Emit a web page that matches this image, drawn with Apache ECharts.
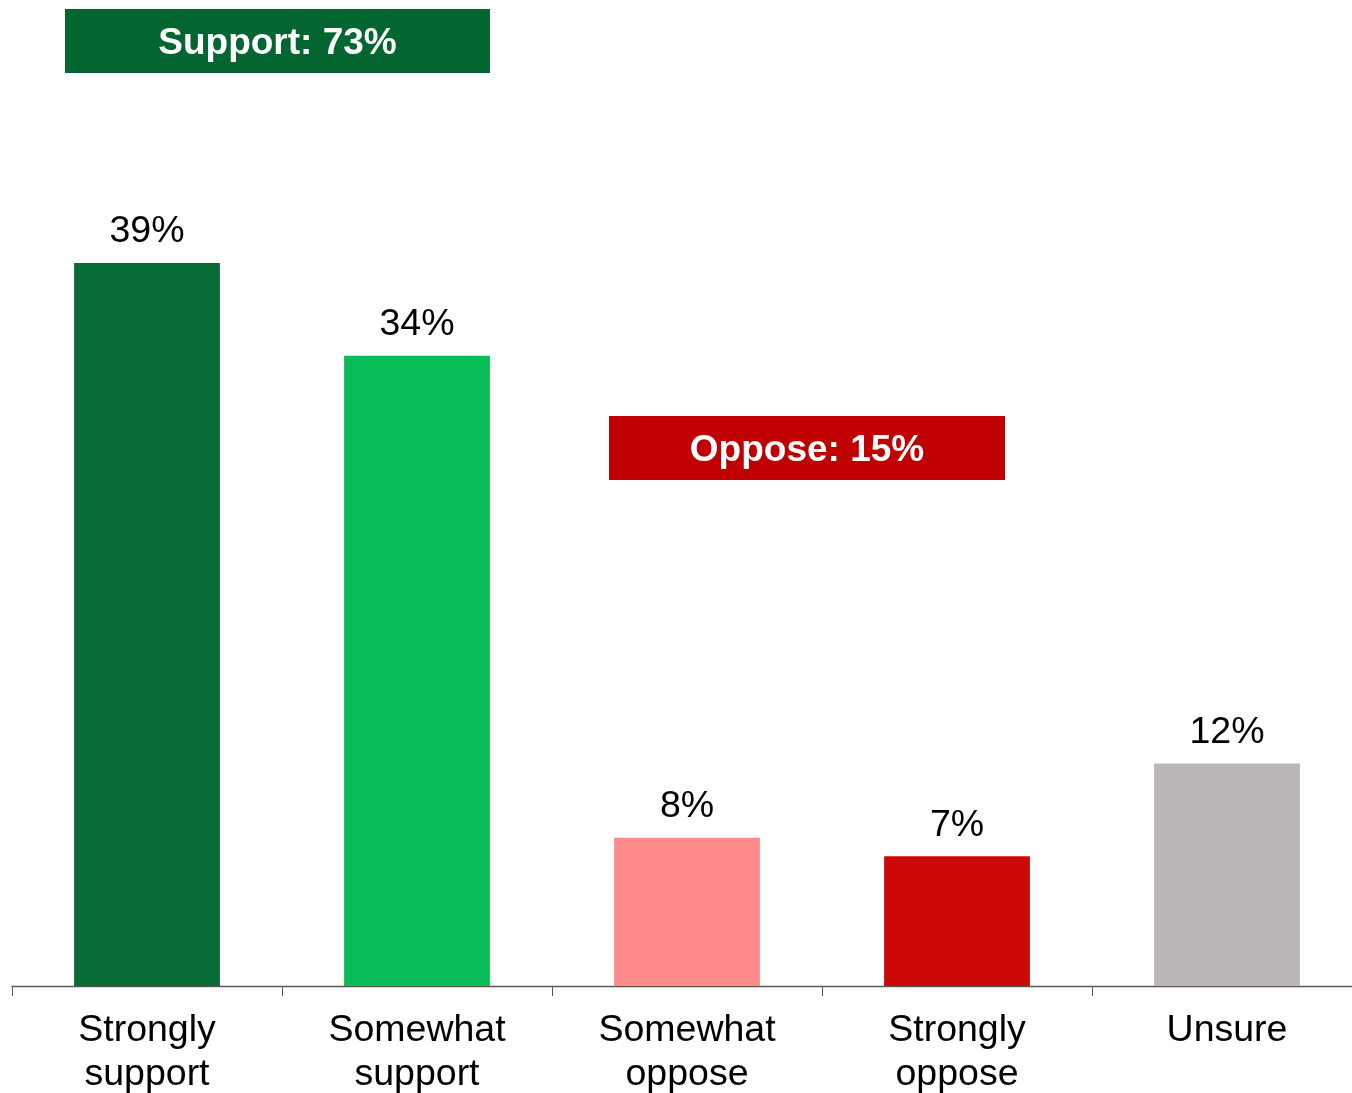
<!DOCTYPE html>
<html>
<head>
<meta charset="utf-8">
<script src="https://cdn.jsdelivr.net/npm/echarts@6/dist/echarts.min.js"></script>
<style>
  html, body { margin: 0; padding: 0; background: #fff; }
  #main { width: 1352px; height: 1093px; }
</style>
</head>
<body>
<div id="main"></div>
<script>
var categories = ['Strongly\nsupport', 'Somewhat\nsupport', 'Somewhat\noppose', 'Strongly\noppose', 'Unsure'];
var values = [39, 34, 8, 7, 12];
var barColors = ['#076B36', '#08BC58', '#FF8A8A', '#CC0808', '#BBB7B6'];
var supportText = 'Support: 73%';
var opposeText = 'Oppose: 15%';

var myChart = echarts.init(document.getElementById('main'));

// 标注框
function box(x, y, w, h, color, text) {
  return {
    type: 'group',
    left: x,
    top: y,
    children: [
      { type: 'rect', shape: { x: 0, y: 0, width: w, height: h }, style: { fill: color } },
      {
        type: 'text',
        x: w / 2,
        y: h / 2 + 3,
        style: {
          text: text,
          fill: '#fff',
          font: 'bold 37px "Liberation Sans", Arial, sans-serif',
          align: 'center',
          verticalAlign: 'middle'
        }
      }
    ]
  };
}

var option = {
  animation: false,
  grid: { left: 12, top: 59, right: -10, bottom: 107, containLabel: false, outerBoundsMode: 'none' },
  xAxis: {
    type: 'category',
    data: categories,
    axisLine: { lineStyle: { color: '#595959', width: 1.3 } },
    axisTick: { show: true, length: 10, lineStyle: { color: '#595959' } },
    axisLabel: {
      interval: 0,
      margin: 23,
      color: '#000',
      fontSize: 37.5,
      lineHeight: 44,
      fontFamily: '"Liberation Sans", Arial, sans-serif'
    }
  },
  yAxis: {
    type: 'value',
    min: 0,
    max: 50,
    show: false,
    splitLine: { show: false }
  },
  series: [{
    type: 'bar',
    barWidth: '54%',
    data: values.map(function (v, i) {
      return { value: v, itemStyle: { color: barColors[i] } };
    }),
    label: {
      show: true,
      position: 'top',
      distance: 12,
      color: '#000',
      fontSize: 37.5,
      fontFamily: '"Liberation Sans", Arial, sans-serif',
      formatter: '{c}%'
    }
  }],
  graphic: [
    box(65, 9, 425, 64, '#036630', supportText),
    box(609, 416, 396, 64, '#C00000', opposeText)
  ]
};
myChart.setOption(option);
</script>
</body>
</html>
